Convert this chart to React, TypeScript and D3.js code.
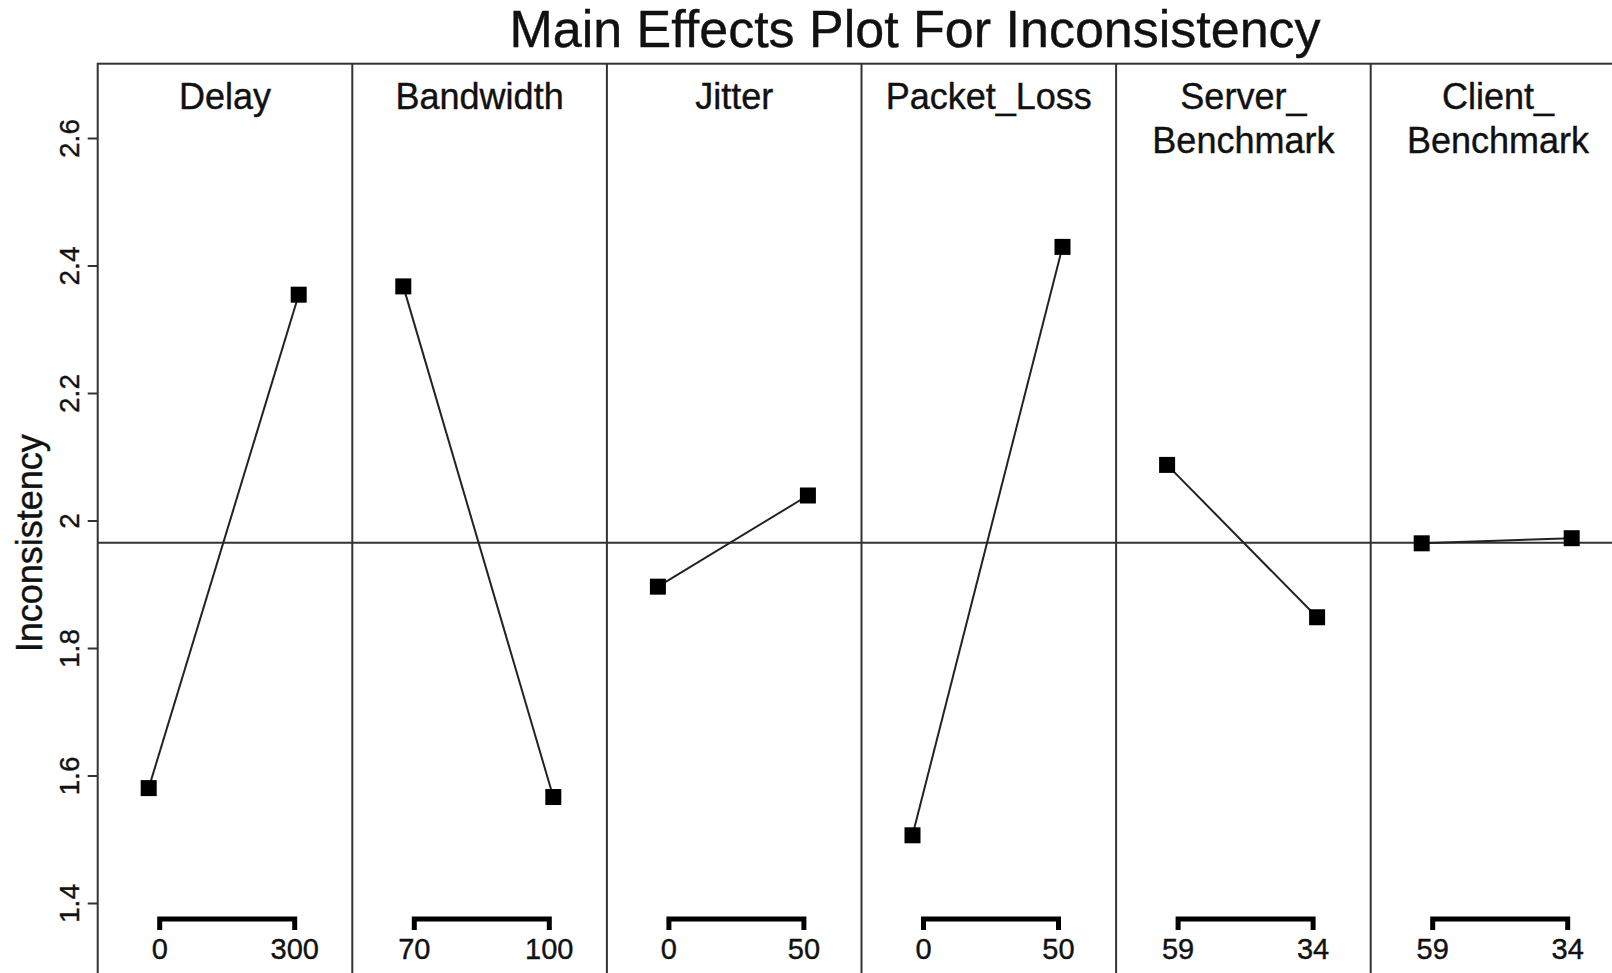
import React from "react";
import * as d3 from "d3";

const factorLabels: string[][] = [
  ["Delay"],
  ["Bandwidth"],
  ["Jitter"],
  ["Packet_Loss"],
  ["Server_", "Benchmark"],
  ["Client_", "Benchmark"],
];
const levelLabels: string[][] = [
  ["0", "300"],
  ["70", "100"],
  ["0", "50"],
  ["0", "50"],
  ["59", "34"],
  ["59", "34"],
];
const lowMeans = [1.581, 2.368, 1.897, 1.507, 2.088, 1.965];
const highMeans = [2.355, 1.567, 2.04, 2.43, 1.849, 1.973];
const grandMean = 1.966;
const yTicks = [1.4, 1.6, 1.8, 2.0, 2.2, 2.4, 2.6];
const yTickLabels = ["1.4", "1.6", "1.8", "2", "2.2", "2.4", "2.6"];
const titleText = "Main Effects Plot For Inconsistency";
const yTitle = "Inconsistency";

const W = 1612;
const H = 973;
const FONT = "'Liberation Sans', Arial, Helvetica, sans-serif";

export default function App() {
  const left = 97.7;
  const panelW = 254.6;
  const top = 63.7;
  const bottom = 1010;
  const ids = factorLabels.map((_, i) => String(i));
  const band = d3
    .scaleBand<string>()
    .domain(ids)
    .range([left, left + panelW * ids.length])
    .padding(0);
  const lvl = d3.scalePoint<string>().domain(["lo", "hi"]).range([51, 201]);
  const brk = d3.scalePoint<string>().domain(["lo", "hi"]).range([62, 197]);
  const y = d3.scaleLinear().domain([1.4, 2.6]).range([903.5, 138.5]);
  const line = d3
    .line<[number, number]>()
    .x((d) => d[0])
    .y((d) => d[1]);

  const right = left + panelW * ids.length;
  const stroke = "#333";
  const txt = { fill: "#111", stroke: "#111", strokeWidth: 0.4 };

  return (
    <svg
      width={W}
      height={H}
      style={{ position: "absolute", left: 0, top: 0, background: "#fff" }}
      fontFamily={FONT}
    >
      <rect x={0} y={0} width={W} height={H} fill="#fff" />
      <text x={915} y={47} textAnchor="middle" fontSize={52} {...txt}>
        {titleText}
      </text>

      {/* frame */}
      <rect
        x={left}
        y={top}
        width={right - left}
        height={bottom - top}
        fill="none"
        stroke={stroke}
        strokeWidth={2}
      />
      {ids.slice(1).map((id) => (
        <line
          key={"d" + id}
          x1={band(id)!}
          x2={band(id)!}
          y1={top}
          y2={bottom}
          stroke={stroke}
          strokeWidth={2}
        />
      ))}

      {/* y axis */}
      {yTicks.map((t, i) => (
        <g key={"t" + i}>
          <line x1={left - 10} x2={left} y1={y(t)} y2={y(t)} stroke={stroke} strokeWidth={2} />
          <text
            transform={`translate(79,${y(t)}) rotate(-90)`}
            textAnchor="middle"
            fontSize={28}
            {...txt}
          >
            {yTickLabels[i]}
          </text>
        </g>
      ))}
      <text
        transform={`translate(42,${y(1.965)}) rotate(-90)`}
        textAnchor="middle"
        fontSize={36}
        {...txt}
      >
        {yTitle}
      </text>

      {/* grand mean reference line */}
      <line x1={left} x2={right} y1={y(grandMean)} y2={y(grandMean)} stroke={stroke} strokeWidth={2} />

      {ids.map((id, i) => {
        const x0 = band(id)!;
        const cx = x0 + panelW / 2;
        const pts: [number, number][] = [
          [x0 + lvl("lo")!, y(lowMeans[i])],
          [x0 + lvl("hi")!, y(highMeans[i])],
        ];
        const bx1 = x0 + brk("lo")!;
        const bx2 = x0 + brk("hi")!;
        return (
          <g key={"p" + id}>
            {factorLabels[i].map((t, j) => (
              <text
                key={j}
                x={cx}
                y={109 + j * 44}
                textAnchor="middle"
                fontSize={36}
                {...txt}
              >
                {t}
              </text>
            ))}
            <path d={line(pts)!} fill="none" stroke="#222" strokeWidth={2} />
            {pts.map((p, k) => (
              <rect key={k} x={p[0] - 8} y={p[1] - 8} width={16} height={16} fill="#000" />
            ))}
            <path
              d={`M${bx1},930V919H${bx2}V930`}
              fill="none"
              stroke="#000"
              strokeWidth={5}
            />
            {levelLabels[i].map((t, k) => (
              <text
                key={k}
                x={k === 0 ? bx1 : bx2}
                y={959}
                textAnchor="middle"
                fontSize={29}
                {...txt}
              >
                {t}
              </text>
            ))}
          </g>
        );
      })}
    </svg>
  );
}
